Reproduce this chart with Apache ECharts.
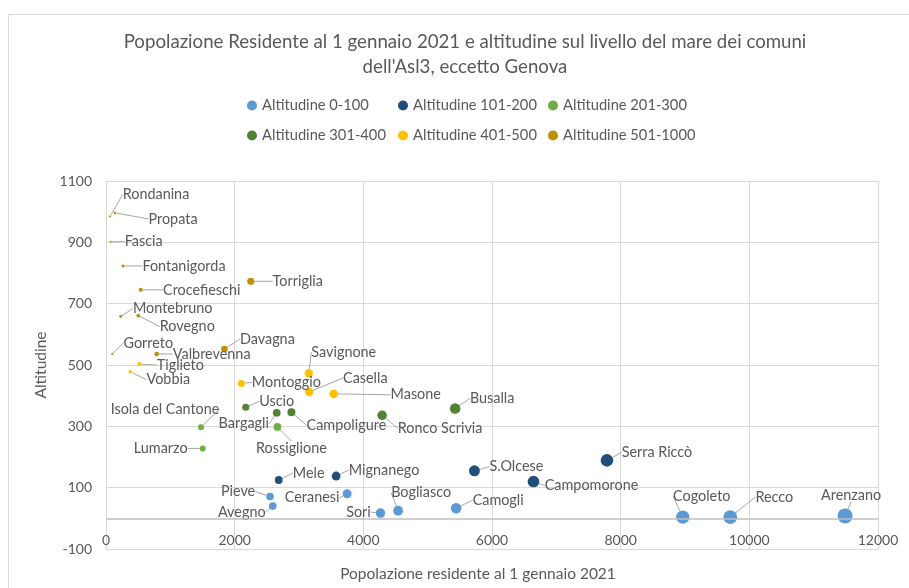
<!DOCTYPE html>
<html>
<head>
<meta charset="utf-8">
<script src="https://cdn.jsdelivr.net/npm/echarts@6/dist/echarts.min.js"></script>
<style>
  html, body { margin: 0; padding: 0; background: #fff; }
  #chart { width: 909px; height: 588px; }
</style>
</head>
<body>
<div id="chart"></div>
<script>
// Fasce di altitudine (serie del grafico)
const fasce = ['Altitudine 0-100', 'Altitudine 101-200', 'Altitudine 201-300',
               'Altitudine 301-400', 'Altitudine 401-500', 'Altitudine 501-1000'];

// Altitudine 0-100
const comuni0 = ['Pieve', 'Avegno', 'Ceranesi', 'Sori', 'Bogliasco', 'Camogli', 'Cogoleto', 'Recco', 'Arenzano'];
const pop0    = [2550, 2592, 3748, 4266, 4541, 5443, 8965, 9704, 11488];
const alt0    = [71, 40, 80, 17, 25, 33, 4, 4, 8];

// Altitudine 101-200
const comuni1 = ['Mele', 'Mignanego', 'S.Olcese', 'Campomorone', 'Serra Riccò'];
const pop1    = [2685, 3577, 5727, 6645, 7787];
const alt1    = [125, 138, 155, 120, 189];

// Altitudine 201-300
const comuni2 = ['Isola del Cantone', 'Rossiglione', 'Lumarzo'];
const pop2    = [1477, 2664, 1503];
const alt2    = [297, 298, 228];

// Altitudine 301-400
const comuni3 = ['Uscio', 'Bargagli', 'Campoligure', 'Ronco Scrivia', 'Busalla'];
const pop3    = [2172, 2654, 2882, 4292, 5427];
const alt3    = [362, 344, 346, 336, 358];

// Altitudine 401-500
const comuni4 = ['Montoggio', 'Casella', 'Savignone', 'Masone', 'Tiglieto', 'Vobbia'];
const pop4    = [2104, 3160, 3152, 3540, 518, 378];
const alt4    = [440, 412, 473, 406, 503, 478];

// Altitudine 501-1000
const comuni5 = ['Rondanina', 'Propata', 'Fascia', 'Fontanigorda', 'Crocefieschi', 'Torriglia',
                 'Montebruno', 'Rovegno', 'Gorreto', 'Valbrevenna', 'Davagna'];
const pop5    = [62, 140, 73, 264, 540, 2250, 228, 502, 98, 788, 1840];
const alt5    = [984, 996, 902, 823, 745, 773, 658, 661, 536, 536, 552];

// Tick dell'asse verticale e orizzontale
const yTicks = { min: -100, max: 1100, step: 200 };
const xTicks = { min: 0, max: 12000, step: 2000 };

const comuni = [comuni0, comuni1, comuni2, comuni3, comuni4, comuni5];
const popolazioni = [pop0, pop1, pop2, pop3, pop4, pop5];
const altitudini = [alt0, alt1, alt2, alt3, alt4, alt5];

const colori = ['#5B9BD5', '#1F4E79', '#70AD47', '#548235', '#FFC000', '#BF9000'];

// Spostamento delle etichette rispetto al centro della bolla (px)
const spostamenti = {
  'Rondanina': [46, -22], 'Propata': [58, 6], 'Fascia': [33, 0], 'Fontanigorda': [61, 0],
  'Crocefieschi': [61, 0], 'Torriglia': [47, 0], 'Montebruno': [52, -8], 'Rovegno': [49, 11],
  'Gorreto': [36, -11], 'Valbrevenna': [55, 0], 'Davagna': [43, -10], 'Tiglieto': [41, 1],
  'Vobbia': [38, 8], 'Savignone': [35, -21], 'Montoggio': [45, -1], 'Casella': [56, -14],
  'Masone': [82, 1], 'Busalla': [37, -10], 'Uscio': [31, -6], 'Isola del Cantone': [-36, -18],
  'Bargagli': [-33, 11], 'Campoligure': [55, 13], 'Ronco Scrivia': [58, 13], 'Rossiglione': [14, 21],
  'Lumarzo': [-42, 0], 'Mele': [30, -7], 'Mignanego': [48, -6], 'S.Olcese': [42, -4],
  'Campomorone': [58, 4], 'Serra Riccò': [50, -8], 'Pieve': [-32, -5], 'Ceranesi': [-35, 4],
  'Avegno': [-31, 6], 'Sori': [-22, -1], 'Bogliasco': [23, -18], 'Camogli': [42, -8],
  'Cogoleto': [19, -21], 'Recco': [44, -20], 'Arenzano': [6, -21]
};

const FONT = 'Lato, "Open Sans", sans-serif';
const GRIGIO = '#595959';
const popMax = Math.max(...popolazioni.flat());

const series = fasce.map((fascia, s) => ({
  type: 'scatter',
  name: fascia,
  data: popolazioni[s].map((p, i) => ({ name: comuni[s][i], value: [p, altitudini[s][i]] })),
  symbolSize: v => 1 + 14 * Math.sqrt(v[0] / popMax),
  itemStyle: { color: colori[s], opacity: 1 },
  label: {
    show: true, position: 'inside', formatter: '{b}',
    color: GRIGIO, fontSize: 14.4, fontFamily: FONT
  },
  labelLine: { show: true, lineStyle: { color: '#a6a6a6', width: 1 } },
  labelLayout: p => {
    const o = spostamenti[comuni[s][p.dataIndex]] || [0, 0];
    return { dx: o[0], dy: o[1] };
  },
  emphasis: { disabled: true },
  z: 3
}));

// Linea dello zero sull'asse delle altitudini
series[0].markLine = {
  silent: true, symbol: 'none', label: { show: false },
  lineStyle: { color: '#bfbfbf', width: 1.5, type: 'solid' },
  data: [{ yAxis: 0 }]
};

const legendaBase = {
  orient: 'vertical', icon: 'circle', itemWidth: 10, itemHeight: 10, itemGap: 15,
  textStyle: { color: GRIGIO, fontSize: 14.7, fontFamily: FONT }, selectedMode: false
};

const chart = echarts.init(document.getElementById('chart'), null, { renderer: 'canvas' });
chart.setOption({
  animation: false,
  backgroundColor: '#fff',
  textStyle: { fontFamily: FONT },
  graphic: [
    { type: 'rect', shape: { x: 8.5, y: 14.5, width: 1000, height: 1000 },
      style: { fill: 'none', stroke: '#d9d9d9', lineWidth: 1 }, silent: true, z: -1 },
    { type: 'text', x: 465, y: 42,
      style: { text: 'Popolazione Residente al 1 gennaio 2021 e altitudine sul livello del mare dei comuni',
               fill: GRIGIO, font: '18.67px ' + FONT, textAlign: 'center', textVerticalAlign: 'middle' } },
    { type: 'text', x: 465, y: 67,
      style: { text: "dell'Asl3, eccetto Genova",
               fill: GRIGIO, font: '18.67px ' + FONT, textAlign: 'center', textVerticalAlign: 'middle' } }
  ],
  legend: [
    Object.assign({ left: 242, top: 93, data: [fasce[0], fasce[3]] }, legendaBase),
    Object.assign({ left: 393, top: 93, data: [fasce[1], fasce[4]] }, legendaBase),
    Object.assign({ left: 543, top: 93, data: [fasce[2], fasce[5]] }, legendaBase)
  ],
  grid: { left: 106, right: 31, top: 181, bottom: 39 },
  xAxis: {
    type: 'value', min: xTicks.min, max: xTicks.max, interval: xTicks.step,
    name: 'Popolazione residente al 1 gennaio 2021', nameLocation: 'middle', nameGap: 17,
    nameTextStyle: { color: GRIGIO, fontSize: 15.5, fontFamily: FONT, padding: [0, 28, 0, 0] },
    axisLine: { show: false, onZero: false },
    axisTick: { show: false },
    axisLabel: { inside: false, verticalAlign: 'bottom', margin: -2, color: GRIGIO,
                 fontSize: 14, fontFamily: FONT, formatter: v => String(v) },
    splitLine: { show: true, lineStyle: { color: '#d9d9d9', width: 1 } }
  },
  yAxis: {
    type: 'value', min: yTicks.min, max: yTicks.max, interval: yTicks.step,
    name: 'Altitudine', nameLocation: 'middle', nameGap: 53,
    nameTextStyle: { color: GRIGIO, fontSize: 15.5, fontFamily: FONT },
    axisLine: { show: false },
    axisTick: { show: false },
    axisLabel: { margin: 14, color: GRIGIO, fontSize: 14, fontFamily: FONT,
                 formatter: v => String(v) },
    splitLine: { show: true, lineStyle: { color: '#d9d9d9', width: 1 } }
  },
  series: series
});
</script>
</body>
</html>
